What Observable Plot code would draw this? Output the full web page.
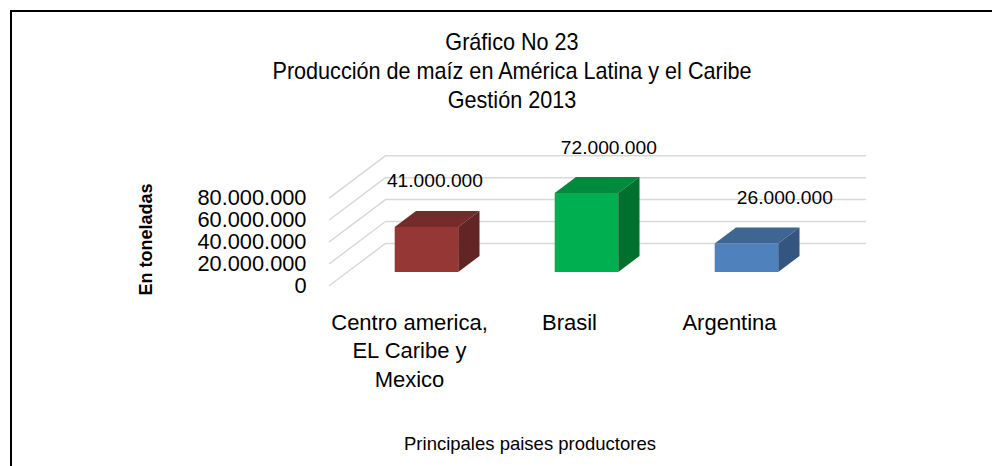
<!DOCTYPE html>
<html><head><meta charset="utf-8">
<script src="https://cdn.jsdelivr.net/npm/d3@7"></script>
<script src="https://cdn.jsdelivr.net/npm/@observablehq/plot@0.6"></script>
<style>
html,body{margin:0;padding:0;background:#fff;overflow:hidden}
#page{position:relative;width:992px;height:466px;overflow:hidden}
#box{position:absolute;left:10px;top:10px;width:1000px;height:470px;border:2px solid #000;box-sizing:border-box}
#title{position:absolute;left:0;top:27px;width:1024px;text-align:center;font-family:"Liberation Sans",sans-serif;font-size:24px;line-height:29px;color:#000;transform:scaleX(.9);transform-origin:512px 0}
#chart{position:absolute;left:0;top:0}
</style></head><body>
<div id="page"><div id="box"></div>
<div id="title"><div>Gráfico No 23</div><div>Producción de maíz en América Latina y el Caribe</div><div>Gestión 2013</div></div>
<div id="chart"></div></div>
<script>
const categories = ["Centro america,\nEL Caribe y\nMexico", "Brasil", "Argentina"];
const values = [41000000, 72000000, 26000000];
const yTicks = [0, 20000000, 40000000, 60000000, 80000000];
const frontColors = ["#953735", "#00b050", "#4f81bd"];
const topColors = ["#752b29", "#008a3e", "#3f6592"];
const sideColors = ["#632523", "#00702f", "#345580"];
const labelShiftX = [0.047, 0.134, 0.234];
const labelShiftY = [228000, -456000, 0];

const fmt = v => d3.format(",")(v).replace(/,/g, ".");
// oblique projection: depth 1 moves right in category units and up in value units
const DX = 0.35, DY = 38400000;
const project = (x, v, d) => ({x: x + d * DX, y: v + d * DY});
const barHalf = 0.1985, d0 = 0.32, d1 = 0.70, barCenter = 0.494;

const faces = [];
values.forEach((v, i) => {
  const l = i + barCenter - barHalf, r = i + barCenter + barHalf;
  const a = (x, y, d, fill, face) => ({...project(x, y, d), fill, id: i + face});
  faces.push(
    a(l, 0, d0, frontColors[i], "f"), a(r, 0, d0, frontColors[i], "f"), a(r, v, d0, frontColors[i], "f"), a(l, v, d0, frontColors[i], "f"),
    a(l, v, d0, topColors[i], "t"), a(r, v, d0, topColors[i], "t"), a(r, v, d1, topColors[i], "t"), a(l, v, d1, topColors[i], "t"),
    a(r, 0, d0, sideColors[i], "s"), a(r, 0, d1, sideColors[i], "s"), a(r, v, d1, sideColors[i], "s"), a(r, v, d0, sideColors[i], "s")
  );
});
const grid = yTicks.flatMap(t => [project(0, t, 0), project(0, t, 1), project(3, t, 1)].map(p => ({...p, t})));
const labels = values.map((v, i) => {
  const p = project(i + 0.5 + labelShiftX[i], v + labelShiftY[i], d0);
  return {...p, text: fmt(v)};
});
const cats = categories.map((c, i) => ({x: i + 0.5, text: c}));

const chart = Plot.plot({
  width: 992, height: 466,
  marginTop: 0, marginRight: 0, marginBottom: 0, marginLeft: 0,
  x: {domain: [0, 3], range: [329, 809], axis: null},
  y: {domain: [0, 80000000], range: [285, 197.3], axis: null},
  style: {background: "transparent", overflow: "visible"},
  marks: [
    Plot.line(grid, {x: "x", y: "y", z: "t", stroke: "#d9d9d9", strokeWidth: 1.5}),
    Plot.line(faces, {x: "x", y: "y", z: "id", fill: "fill", stroke: "none"}),
    Plot.text(yTicks, {x: 0, y: d => d, text: fmt, textAnchor: "end", dx: -23, dy: 0.5, fontSize: 21.8, fontFamily: "Liberation Sans", fill: "#000"}),
    Plot.text(labels, {x: "x", y: "y", text: "text", dy: -46, fontSize: 19.2, fontFamily: "Liberation Sans", fill: "#000"}),
    Plot.text(cats, {x: "x", y: 0, text: "text", dy: 24, lineAnchor: "top", lineHeight: 1.3, fontSize: 22, fontFamily: "Liberation Sans", fill: "#000"}),
    Plot.text(["En toneladas"], {frameAnchor: "top-left", textAnchor: "middle", lineAnchor: "middle", dx: 146, dy: 239, rotate: -90, fontSize: 18, fontWeight: "bold", fontFamily: "Liberation Sans", fill: "#000"}),
    Plot.text(["Principales paises productores"], {frameAnchor: "top-left", textAnchor: "middle", lineAnchor: "middle", dx: 529.5, dy: 444, fontSize: 18.5, fontFamily: "Liberation Sans", fill: "#000"})
  ]
});
document.getElementById("chart").appendChild(chart);
</script></body></html>
